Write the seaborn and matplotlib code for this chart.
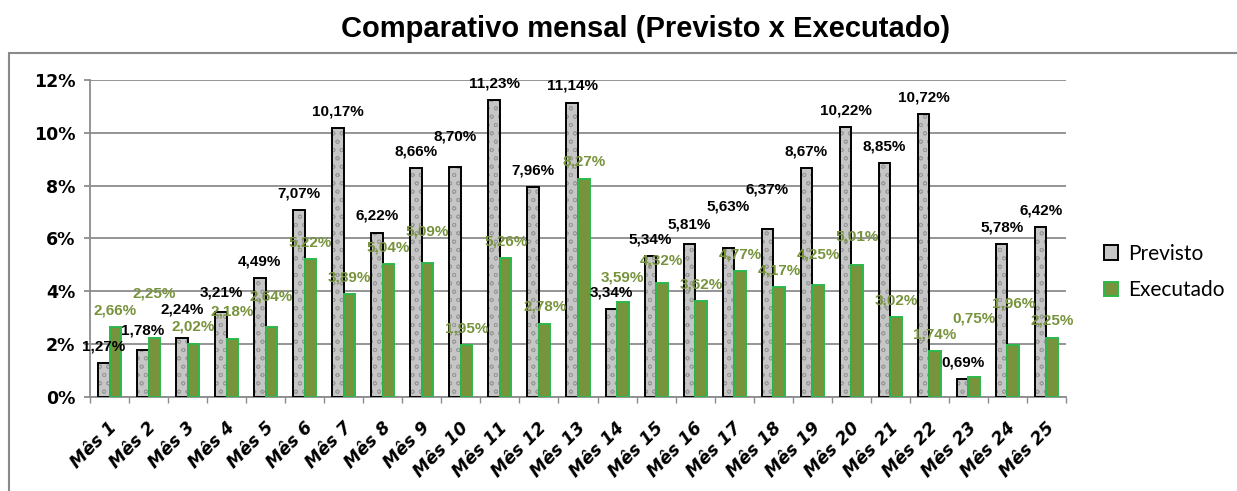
import matplotlib
matplotlib.use("Agg")
import matplotlib.pyplot as plt
import matplotlib.transforms as mtransforms
from matplotlib.patches import Patch
from matplotlib.lines import Line2D
import numpy as np
import pandas as pd
import seaborn as sns

# ---------------- data ----------------
meses = ["Mês 1", "Mês 2", "Mês 3", "Mês 4", "Mês 5", "Mês 6", "Mês 7", "Mês 8",
         "Mês 9", "Mês 10", "Mês 11", "Mês 12", "Mês 13", "Mês 14", "Mês 15",
         "Mês 16", "Mês 17", "Mês 18", "Mês 19", "Mês 20", "Mês 21", "Mês 22",
         "Mês 23", "Mês 24", "Mês 25"]
previsto = [1.27, 1.78, 2.24, 3.21, 4.49, 7.07, 10.17, 6.22, 8.66, 8.70, 11.23,
            7.96, 11.14, 3.34, 5.34, 5.81, 5.63, 6.37, 8.67, 10.22, 8.85, 10.72,
            0.69, 5.78, 6.42]
executado = [2.66, 2.25, 2.02, 2.18, 2.64, 5.22, 3.89, 5.04, 5.09, 1.95, 5.26,
             2.78, 8.27, 3.59, 4.32, 3.62, 4.77, 4.17, 4.25, 5.01, 3.02, 1.74,
             0.75, 1.96, 2.25]
series = ["Previsto", "Executado"]
yticks = [0, 2, 4, 6, 8, 10, 12]
titulo = "Comparativo mensal (Previsto x Executado)"

# ---------------- style ----------------
sns.set_theme(style="white")
plt.rcParams["font.family"] = ["DejaVu Sans"]
plt.rcParams["text.color"] = "black"
plt.rcParams["hatch.linewidth"] = 0.6

GRAY_FILL = "#c6c6c6"
GREEN_FILL = "#77933C"
GREEN_EDGE = "#2DB84B"
GREEN_TEXT = "#77933C"
GRID = "#8c8c8c"
NARROW = ["Liberation Sans Narrow", "Liberation Sans", "DejaVu Sans"]

fig = plt.figure(figsize=(12.37, 4.91), dpi=100)
ax = fig.add_axes([90 / 1237, 1 - 397 / 491, (1066 - 90) / 1237, (397 - 80) / 491])

df = pd.DataFrame({
    "Mês": meses * 2,
    "Valor": previsto + executado,
    "Série": [series[0]] * len(previsto) + [series[1]] * len(executado),
})

sns.barplot(data=df, x="Mês", y="Valor", hue="Série", hue_order=series,
            palette={series[0]: GRAY_FILL, series[1]: GREEN_FILL},
            width=0.59, gap=0, saturation=1, legend=False, ax=ax, zorder=3)

for bar in ax.containers[0]:
    bar.set_edgecolor("black")
    bar.set_linewidth(1.4)
    bar.set_hatch("oo")
    bar._hatch_color = matplotlib.colors.to_rgba("#9a9a9a")
for bar in ax.containers[1]:
    bar.set_edgecolor(GREEN_EDGE)
    bar.set_linewidth(1.4)

# axes
ax.set_ylim(0, 12)
ax.set_xlim(-0.5, len(meses) - 0.5)
ax.set_yticks(yticks)
ax.set_yticklabels([f"{t}%" for t in yticks], fontsize=12.5, fontweight="bold")
ax.yaxis.grid(True, color=GRID, linewidth=1.3, zorder=0)
ax.xaxis.grid(False)
ax.set_axisbelow(True)
ax.set_xlabel("")
ax.set_ylabel("")
for s in ["top", "right"]:
    ax.spines[s].set_visible(False)
for s in ["left", "bottom"]:
    ax.spines[s].set_color(GRID)
    ax.spines[s].set_linewidth(1.3)

ax.tick_params(axis="y", which="major", length=4.5, width=1.3, color=GRID, pad=6,
               left=True, labelcolor="black")
ax.set_xticks(np.arange(len(meses)))
ax.set_xticks(np.arange(-0.5, len(meses), 1), minor=True)
ax.tick_params(axis="x", which="major", length=0, pad=20, labelcolor="black")
ax.tick_params(axis="x", which="minor", length=4, width=1.0, color=GRID, bottom=True)
ax.set_xticklabels(meses, rotation=45, ha="right", va="center", rotation_mode="anchor",
                   fontsize=12.5, fontweight="bold", fontstyle="italic")
offset = mtransforms.ScaledTranslation(5 / 100, 0, fig.dpi_scale_trans)
for lbl in ax.get_xticklabels():
    lbl.set_transform(lbl.get_transform() + offset)

# ---------------- value labels ----------------
fmt = lambda v: f"{v:.2f}%".replace(".", ",")
BASE_PAD = 7
items = []  # (month, value, bar, color)
for i, (p, e) in enumerate(zip(previsto, executado)):
    pair = [(p, ax.containers[0][i], "black"), (e, ax.containers[1][i], GREEN_TEXT)]
    pair.sort(key=lambda t: t[0])  # lower bar's label placed first
    items.extend(pair)

fig.canvas.draw()
renderer = fig.canvas.get_renderer()
placed = []
for v, bar, col in items:
    pad = BASE_PAD
    while True:
        t = ax.annotate(fmt(v), (bar.get_x() + bar.get_width() / 2, bar.get_height()),
                        xytext=(0, pad), textcoords="offset points", ha="center",
                        va="bottom", fontsize=11, fontweight="bold", color=col,
                        family=NARROW, zorder=5)
        bb = t.get_window_extent(renderer).expanded(1.0, 1.05)
        if any(bb.overlaps(o) for o in placed) and pad < 60:
            t.remove()
            pad += 2
            continue
        placed.append(bb)
        break

# legend
handles = [Patch(facecolor=GRAY_FILL, edgecolor="black", linewidth=1.4),
           Patch(facecolor=GREEN_FILL, edgecolor=GREEN_EDGE, linewidth=1.4)]
fig.legend(handles, series, loc="center left",
           bbox_to_anchor=(1085 / 1237, 1 - 272 / 491), frameon=False,
           prop={"family": ["Lato", "DejaVu Sans"], "size": 15},
           handlelength=0.7, handleheight=0.7, handletextpad=0.45, labelspacing=0.8)

# title
fig.text(646 / 1237, 1 - 29 / 491, titulo, ha="center", va="center", color="black",
         fontsize=21, fontweight="bold", family=["Liberation Sans", "DejaVu Sans"])

# chart border (top and left visible)
fig.add_artist(Line2D([9 / 1237, 1.0], [1 - 53 / 491] * 2, transform=fig.transFigure,
                      color="#8a8a8a", linewidth=1.5))
fig.add_artist(Line2D([9 / 1237] * 2, [0.0, 1 - 53 / 491], transform=fig.transFigure,
                      color="#8a8a8a", linewidth=1.5))

fig.savefig("out.png", dpi=100)
